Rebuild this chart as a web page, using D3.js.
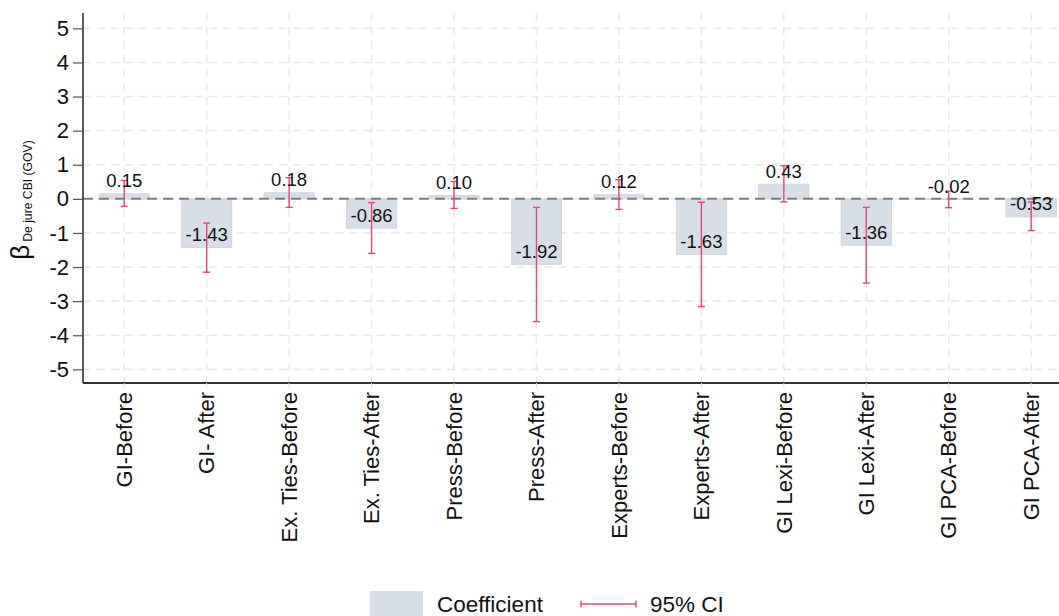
<!DOCTYPE html>
<html>
<head>
<meta charset="utf-8">
<script src="https://cdn.jsdelivr.net/npm/d3@7"></script>
<style>
  html, body { margin: 0; padding: 0; background: #fff; }
  svg { display: block; font-family: Arial, "Liberation Sans", sans-serif; }
</style>
</head>
<body>
<svg id="chart" width="1059" height="616"></svg>
<script>
// Coefficients and 95% confidence intervals by specification
const categories = ["GI-Before", "GI- After", "Ex. Ties-Before", "Ex. Ties-After",
  "Press-Before", "Press-After", "Experts-Before", "Experts-After",
  "GI Lexi-Before", "GI Lexi-After", "GI PCA-Before", "GI PCA-After"];
const coefficients = [0.15, -1.43, 0.18, -0.86, 0.10, -1.92, 0.12, -1.63, 0.43, -1.36, -0.02, -0.53];
const ciLower = [-0.22, -2.15, -0.25, -1.60, -0.28, -3.60, -0.31, -3.16, -0.09, -2.47, -0.26, -0.93];
const ciUpper = [0.54, -0.71, 0.62, -0.11, 0.51, -0.25, 0.56, -0.10, 0.97, -0.25, 0.23, -0.09];
const yTicks = [5, 4, 3, 2, 1, 0, -1, -2, -3, -4, -5];

const svg = d3.select("#chart");
const plotLeft = 83, plotTop = 13, plotBottom = 383, plotRight = 1059;
const step = 82.45;
const fontFamily = "Arial, 'Liberation Sans', sans-serif";

const x = d3.scaleBand().domain(categories)
  .range([plotLeft, plotLeft + step * categories.length])
  .paddingInner(0.39).paddingOuter(0.195);
const y = d3.scaleLinear().domain([-5.4, 5.45]).range([plotBottom, plotTop]);
const cx = c => x(c) + x.bandwidth() / 2;

const barFill = "#d7dee6", barStroke = "#cbd3dd", ciColor = "#e4457a";

// grid
const grid = svg.append("g");
grid.selectAll("line.h").data(yTicks).join("line").attr("class", "h")
  .attr("x1", plotLeft).attr("x2", plotRight)
  .attr("y1", d => y(d)).attr("y2", d => y(d))
  .attr("stroke", "#e9e9e9").attr("stroke-width", 1.6).attr("stroke-dasharray", "8,6");
grid.selectAll("line.v").data(categories).join("line").attr("class", "v")
  .attr("x1", d => cx(d)).attr("x2", d => cx(d))
  .attr("y1", plotTop).attr("y2", plotBottom)
  .attr("stroke", "#e9e9e9").attr("stroke-width", 1.6).attr("stroke-dasharray", "8,6");

// bars
svg.append("g").selectAll("rect").data(categories).join("rect")
  .attr("x", d => x(d)).attr("width", x.bandwidth())
  .attr("y", (d, i) => y(Math.max(0, coefficients[i])))
  .attr("height", (d, i) => Math.abs(y(coefficients[i]) - y(0)))
  .attr("fill", barFill).attr("stroke", barStroke).attr("stroke-width", 0.8);

// zero reference line
svg.append("line")
  .attr("x1", plotLeft).attr("x2", plotRight).attr("y1", y(0)).attr("y2", y(0))
  .attr("stroke", "#808080").attr("stroke-width", 2).attr("stroke-dasharray", "10,6");

// confidence intervals
const ci = svg.append("g").attr("stroke", ciColor).attr("stroke-width", 1.4);
categories.forEach((c, i) => {
  const xc = cx(c);
  ci.append("line").attr("x1", xc).attr("x2", xc).attr("y1", y(ciLower[i])).attr("y2", y(ciUpper[i]));
  ci.append("line").attr("x1", xc - 3.5).attr("x2", xc + 3.5).attr("y1", y(ciLower[i])).attr("y2", y(ciLower[i]));
  ci.append("line").attr("x1", xc - 3.5).attr("x2", xc + 3.5).attr("y1", y(ciUpper[i])).attr("y2", y(ciUpper[i]));
});

// value labels
svg.append("g").selectAll("text").data(categories).join("text")
  .attr("x", d => cx(d))
  .attr("y", (d, i) => y(coefficients[i]) - 13)
  .attr("text-anchor", "middle").attr("dominant-baseline", "central")
  .attr("font-size", 18.5).attr("fill", "#111")
  .text((d, i) => coefficients[i].toFixed(2));

// y axis
const yAxis = svg.append("g").attr("transform", `translate(${plotLeft},0)`)
  .call(d3.axisLeft(y).tickValues(yTicks).tickSize(10).tickPadding(4).tickFormat(d => String(d)));
yAxis.select(".domain").attr("stroke", "#333").attr("stroke-width", 1.6).attr("d", `M0,${plotTop}V${plotBottom}`);
yAxis.selectAll(".tick line").attr("stroke", "#555").attr("stroke-width", 1.2);
yAxis.selectAll(".tick text").attr("font-size", 22).attr("fill", "#111").attr("font-family", fontFamily);

// x axis
const xAxis = svg.append("g").attr("transform", `translate(0,${plotBottom})`)
  .call(d3.axisBottom(x).tickSize(5).tickSizeOuter(0));
xAxis.select(".domain").attr("stroke", "#333").attr("stroke-width", 2).attr("d", `M${plotLeft},0H${plotRight}`);
xAxis.selectAll(".tick line").attr("stroke", "#e0e0e0");
xAxis.selectAll(".tick text")
  .attr("font-size", 22).attr("fill", "#111").attr("font-family", fontFamily)
  .attr("transform", "rotate(-90)")
  .attr("x", -9).attr("y", 0).attr("dy", "0.35em")
  .attr("text-anchor", "end");

// y axis title
const yTitle = svg.append("text")
  .attr("transform", "translate(29,200) rotate(-90)")
  .attr("text-anchor", "middle").attr("fill", "#111");
yTitle.append("tspan").attr("font-size", 26).text("β");
yTitle.append("tspan").attr("font-size", 12.2).attr("dy", 3).attr("dx", 3).text("De jure CBI (GOV)");

// legend
const lg = svg.append("g");
lg.append("rect").attr("x", 370).attr("y", 591).attr("width", 53).attr("height", 25).attr("fill", barFill);
lg.append("text").attr("x", 437).attr("y", 604).attr("dominant-baseline", "central").attr("font-size", 22.5).attr("fill", "#111").text("Coefficient");
lg.append("line").attr("x1", 581).attr("x2", 636).attr("y1", 604).attr("y2", 604).attr("stroke", ciColor).attr("stroke-width", 1.4);
lg.append("line").attr("x1", 581).attr("x2", 581).attr("y1", 600.5).attr("y2", 607.5).attr("stroke", ciColor).attr("stroke-width", 1.4);
lg.append("line").attr("x1", 636).attr("x2", 636).attr("y1", 600.5).attr("y2", 607.5).attr("stroke", ciColor).attr("stroke-width", 1.4);
lg.append("text").attr("x", 650).attr("y", 604).attr("dominant-baseline", "central").attr("font-size", 22.5).attr("fill", "#111").text("95% CI");
</script>
</body>
</html>
